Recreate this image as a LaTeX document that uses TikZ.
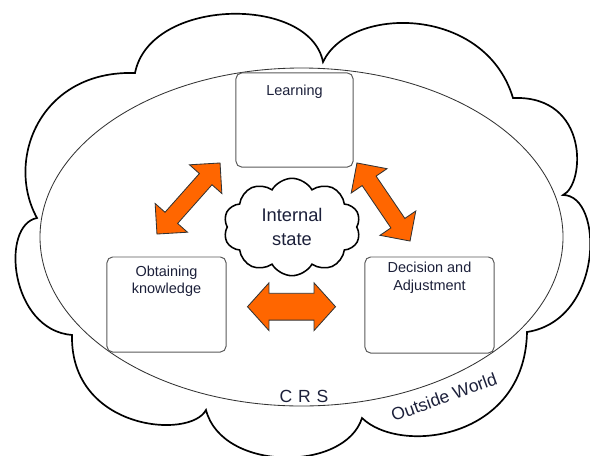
\documentclass[tikz,border=0pt]{standalone}
\usepackage{fontspec}
\setmainfont{Liberation Sans}
\usepackage{xcolor}
\usetikzlibrary{
  positioning,
  shapes.symbols,
  shapes.arrows
}
\definecolor{arroworange}{RGB}{255,102,0}
\definecolor{textnavy}{RGB}{28,32,58}

\tikzset{
  stagebox/.style={draw=black!65, line width=0.7pt, rounded corners=4pt},
  stagetext/.style={inner sep=0pt, align=center, text=textnavy,
    font=\fontsize{10.3}{12.2}\selectfont},
  linkarrow/.style={shape=double arrow, draw=black!80, fill=arroworange,
    line width=0.6pt, inner xsep=0pt},
  worldtext/.style={text=textnavy, font=\fontsize{12.5}{14}\selectfont}
}

\begin{document}
\begin{tikzpicture}[x=0.025cm, y=-0.025cm]
      \useasboundingbox (0,0) rectangle (590,455);

      % Outside world cloud
      \draw[line width=1.2pt] (135,73)
        .. controls (150,-3) and (310,-5) .. (323,62)
        .. controls (350,5) and (485,5) .. (513,98)
        .. controls (590,95) and (585,185) .. (563,195)
        .. controls (604,195) and (604,320) .. (527,332)
        .. controls (525,440) and (400,455) .. (362,418)
        .. controls (345,472) and (222,472) .. (206,410)
        .. controls (190,440) and (70,430) .. (72,335)
        .. controls (10,330) and (0,225) .. (37,218)
        .. controls (5,160) and (40,70) .. cycle;

      % CRS ellipse
      \draw[black!80, line width=0.6pt] (301.5,237) ellipse (261.5 and 169);

      % Three stages
      \node[stagebox, minimum width=2.925cm, minimum height=2.35cm] (learn) at (294.5,120) {};
      \node[stagetext, below=0.3cm of learn.north] (learntxt) {Learning};

      \node[stagebox, minimum width=2.975cm, minimum height=2.375cm] (obtain) at (166.5,304.5) {};
      \node[stagetext, below=0.22cm of obtain.north] (obtaintxt) {Obtaining\\knowledge};

      \node[stagebox, minimum width=3.225cm, minimum height=2.4cm] (decide) at (429.5,305) {};
      \node[stagetext, below=0.14cm of decide.north] (decidetxt) {Decision and\\Adjustment};

      % Internal state
      \node[cloud, draw, line width=1.1pt, cloud puffs=10, cloud puff arc=120,
        minimum width=3.425cm, minimum height=2.375cm, inner sep=0pt,
        align=center, text=textnavy, font=\fontsize{13}{17}\selectfont]
        (state) at (292,227) {Internal\\state};

      % Exchange arrows
      \node[linkarrow, rotate=48.4, minimum height=2.375cm, inner ysep=0.2cm,
        double arrow head extend=0.33cm] (learnobtain) at (188.5,198.5) {};
      \node[linkarrow, rotate=-55.8, minimum height=2.36cm, inner ysep=0.2cm,
        double arrow head extend=0.33cm] (learndecide) at (383.5,202) {};
      \node[linkarrow, minimum height=2.2cm, inner ysep=0.325cm,
        double arrow head extend=0.26cm, double arrow tip angle=96] (obtaindecide) at (291.5,306.7) {};

      % Labels
      \node[worldtext] (crs) at (304,396) {C\,\,R\,\,S};
      \node[worldtext, rotate=20] (world) at (444,397) {Outside World};
    \end{tikzpicture}
\end{document}
